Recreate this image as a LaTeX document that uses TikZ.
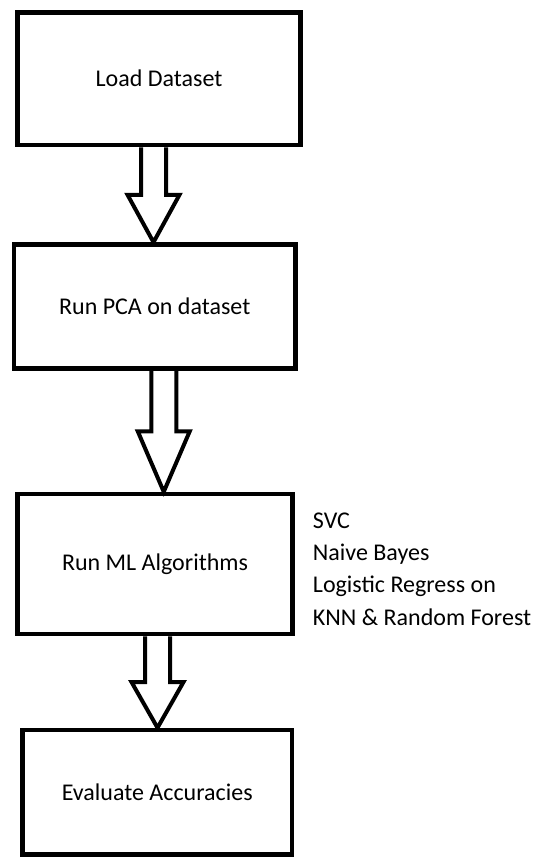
\documentclass[tikz,border=0pt]{standalone}
\usepackage{fontspec}
\setmainfont{Carlito}
\usepackage{tikz}
\usetikzlibrary{positioning,calc}

\begin{document}
\begin{tikzpicture}[
  x=1pt, y=-1pt,
  every node/.style={font=\fontsize{24}{28.8}\selectfont},
  box/.style={draw, rectangle, line width=4.5pt, align=center, inner sep=2pt},
  hollow/.style={draw, line width=4pt, line join=miter}
]
\useasboundingbox (0,0) rectangle (539,857);

\node[box, minimum width=283pt, minimum height=132.5pt] (load) at (159,78.75) {Load Dataset};
\node[box, minimum width=281.5pt, minimum height=124pt, below=95pt of load, xshift=-4.25pt] (pca) {Run PCA on dataset};
\node[box, minimum width=275pt, minimum height=140pt, below=121pt of pca, xshift=0.25pt] (ml) {Run ML Algorithms};
\node[box, minimum width=269.5pt, minimum height=124.5pt, below=91.5pt of ml, xshift=2.25pt] (eval) {Evaluate Accuracies};

\node[right=18pt of ml.east, anchor=west, yshift=-5pt, inner sep=0pt, align=left,
      font=\fontsize{24}{32.3}\selectfont] (algs)
  {SVC\\Naive Bayes\\Logistic Regress on\\KNN \& Random Forest};

% hollow block arrows between the boxes
\foreach \a/\b/\dx in {load/pca/-5.5, pca/ml/9, ml/eval/2.5} {
  \coordinate (top) at ($(\a.south)+(\dx,0)$);
  \coordinate (tip) at ($(\a.south |- \b.north)+(\dx,0)$);
  \coordinate (mid) at ($(top)!0.5!(tip)$);
  \draw[hollow] ($(top)+(-12.5,0)$) -- ($(mid)+(-12.5,0)$) -- ($(mid)+(-26,0)$)
    -- (tip) -- ($(mid)+(26,0)$) -- ($(mid)+(12.5,0)$) -- ($(top)+(12.5,0)$);
}
\end{tikzpicture}
\end{document}
